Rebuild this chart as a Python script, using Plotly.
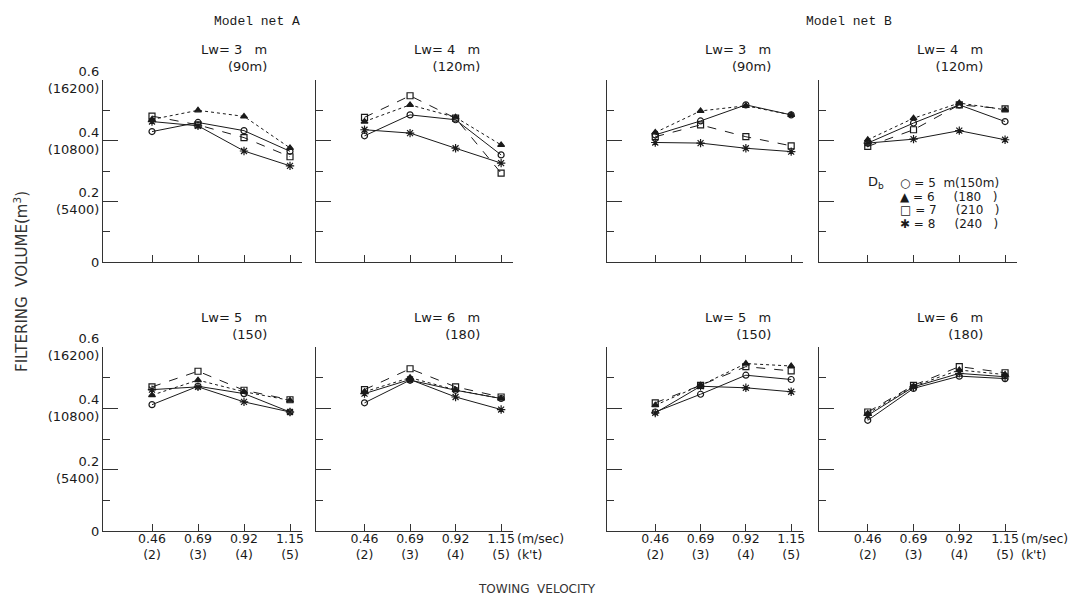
import plotly.graph_objects as go

W, H = 1089, 597
OFF = 8  # page body margin of the rendered html

# ---------------- data ----------------
velocity = [0.46, 0.69, 0.92, 1.15]
x_ticktext = ["0.46<br>(2)", "0.69<br>(3)", "0.92<br>(4)", "1.15<br>(5)"]
y_tickvals = [0, 0.2, 0.4, 0.6]
y_ticktext = ["0", "0.2<br>(5400)", "0.4<br>(10800)", "0.6<br>(16200)"]
y_minor = [0.1, 0.3, 0.5]

db_names = ["Db = 5 m (150m)", "Db = 6 (180)", "Db = 7 (210)", "Db = 8 (240)"]
legend_rows = ["\u25cb = 5\u00a0\u00a0m(150m)",
               "\u25b2 = 6\u00a0\u00a0\u00a0\u00a0\u00a0(180\u00a0\u00a0\u00a0)",
               "\u25a1 = 7\u00a0\u00a0\u00a0\u00a0\u00a0(210\u00a0\u00a0\u00a0)",
               "\u2731 = 8\u00a0\u00a0\u00a0\u00a0\u00a0(240\u00a0\u00a0\u00a0)"]

panel_titles = ["Lw=\u00a03\u00a0\u00a0\u00a0m<br>(90m)", "Lw=\u00a04\u00a0\u00a0\u00a0m<br>(120m)",
                "Lw=\u00a03\u00a0\u00a0\u00a0m<br>(90m)", "Lw=\u00a04\u00a0\u00a0\u00a0m<br>(120m)",
                "Lw=\u00a05\u00a0\u00a0\u00a0m<br>(150)", "Lw=\u00a06\u00a0\u00a0\u00a0m<br>(180)",
                "Lw=\u00a05\u00a0\u00a0\u00a0m<br>(150)", "Lw=\u00a06\u00a0\u00a0\u00a0m<br>(180)"]

# series order in each panel: Db=5 (circle), Db=6 (triangle), Db=7 (square), Db=8 (asterisk)
netA_lw3 = [[0.430, 0.460, 0.433, 0.365],
            [0.470, 0.500, 0.480, 0.376],
            [0.481, 0.452, 0.410, 0.347],
            [0.463, 0.449, 0.366, 0.317]]
netA_lw4 = [[0.416, 0.485, 0.469, 0.353],
            [0.463, 0.518, 0.477, 0.386],
            [0.477, 0.548, 0.474, 0.293],
            [0.436, 0.425, 0.375, 0.326]]
netB_lw3 = [[0.419, 0.465, 0.518, 0.485],
            [0.427, 0.498, 0.515, 0.485],
            [0.413, 0.452, 0.413, 0.383],
            [0.394, 0.392, 0.375, 0.364]]
netB_lw4 = [[0.392, 0.458, 0.518, 0.463],
            [0.403, 0.474, 0.524, 0.502],
            [0.381, 0.436, 0.518, 0.505],
            [0.392, 0.405, 0.433, 0.403]]
netA_lw5 = [[0.412, 0.472, 0.448, 0.388],
            [0.443, 0.492, 0.454, 0.426],
            [0.470, 0.521, 0.459, 0.428],
            [0.461, 0.470, 0.421, 0.388]]
netA_lw6 = [[0.418, 0.492, 0.459, 0.432],
            [0.454, 0.500, 0.460, 0.432],
            [0.461, 0.529, 0.470, 0.437],
            [0.448, 0.494, 0.437, 0.396]]
netB_lw5 = [[0.388, 0.446, 0.508, 0.494],
            [0.410, 0.475, 0.546, 0.538],
            [0.418, 0.475, 0.536, 0.522],
            [0.385, 0.472, 0.467, 0.454]]
netB_lw6 = [[0.361, 0.465, 0.505, 0.497],
            [0.383, 0.472, 0.525, 0.510],
            [0.388, 0.475, 0.536, 0.516],
            [0.377, 0.470, 0.514, 0.503]]

panels = [netA_lw3, netA_lw4, netB_lw3, netB_lw4,
          netA_lw5, netA_lw6, netB_lw5, netB_lw6]

# ---------------- styles ----------------
INK = "#1a1a1a"
AX = "#333333"
FONT = "DejaVu Sans, Liberation Sans, sans-serif"
MONO = "Liberation Mono, DejaVu Sans Mono, monospace"

symbols = ["circle-open", "triangle-up", "square-open", "asterisk-open"]
dashes = ["solid", "dot", "dash", "solid"]
msizes = [6, 6, 6, 7]

col_px = [(103, 302), (316, 513), (607, 803), (819, 1017)]
row_px = [(80, 262), (347, 531)]


def fx(px):
    return (px - OFF) / W


def fy(py):
    return 1 - (py - OFF) / H


fig = go.Figure()
layout = dict(width=W, height=H,
              margin=dict(l=0, r=0, t=0, b=0, pad=0, autoexpand=False),
              paper_bgcolor="white", plot_bgcolor="white",
              showlegend=False, font=dict(family=FONT, size=13, color=INK))
annotations = []

for i, series in enumerate(panels):
    r, c = divmod(i, 4)
    k = i + 1
    xa = "x" if k == 1 else f"x{k}"
    ya = "y" if k == 1 else f"y{k}"
    for j, vals in enumerate(series):
        fig.add_trace(go.Scatter(
            x=velocity, y=vals, xaxis=xa, yaxis=ya, mode="lines+markers",
            name=db_names[j],
            line=dict(color=INK, width=1.0, dash=dashes[j]),
            marker=dict(symbol=symbols[j], size=msizes[j], color=INK,
                        line=dict(color=INK, width=1.2)),
            cliponaxis=False))
    x0, x1 = col_px[c]
    ytop, ybot = row_px[r]
    layout["xaxis" if k == 1 else f"xaxis{k}"] = dict(
        domain=[fx(x0), fx(x1)], anchor=ya, range=[0.215, 1.21], automargin=False,
        showgrid=False, zeroline=False, showline=True, linecolor=AX, linewidth=1.3,
        ticks="inside", ticklen=7, tickcolor=AX, tickwidth=1.2,
        tickvals=velocity, ticktext=x_ticktext, ticklabelstandoff=-4,
        showticklabels=(r == 1), tickfont=dict(family=FONT, size=12.5, color=INK))
    layout["yaxis" if k == 1 else f"yaxis{k}"] = dict(
        domain=[fy(ybot), fy(ytop)], anchor=xa, range=[0, 0.6], automargin=False,
        showgrid=False, zeroline=False, showline=True, linecolor=AX, linewidth=1.3,
        ticks="inside", ticklen=15, tickcolor=AX, tickwidth=1.2,
        tickvals=y_tickvals, ticktext=y_ticktext,
        minor=dict(tickvals=y_minor, ticks="inside", ticklen=7, tickcolor=AX, tickwidth=1.2),
        showticklabels=(c == 0), tickfont=dict(family=FONT, size=13, color=INK))
    # panel title
    annotations.append(dict(
        xref="paper", yref="paper", x=fx(x0 + 166), y=fy(ytop - 4 if r == 0 else ytop - 3),
        xanchor="right", yanchor="bottom", align="right", showarrow=False,
        text=panel_titles[i], font=dict(family=FONT, size=13, color=INK)))

# units after the last x tick label
for k in (6, 8):
    annotations.append(dict(xref=f"x{k}", yref="paper", x=1.15, y=fy(538), xshift=14,
                            xanchor="left", yanchor="middle", showarrow=False,
                            text="(m/sec)", font=dict(family=FONT, size=12.5, color=INK)))
    annotations.append(dict(xref=f"x{k}", yref="paper", x=1.15, y=fy(554), xshift=14,
                            xanchor="left", yanchor="middle", showarrow=False,
                            text="(k't)", font=dict(family=FONT, size=12.5, color=INK)))

# group headings
annotations.append(dict(xref="paper", yref="paper", x=fx(257), y=fy(21), showarrow=False,
                        xanchor="center", yanchor="middle", text="Model net A",
                        font=dict(family=MONO, size=13, color=INK)))
annotations.append(dict(xref="paper", yref="paper", x=fx(849), y=fy(21), showarrow=False,
                        xanchor="center", yanchor="middle", text="Model net B",
                        font=dict(family=MONO, size=13, color=INK)))

# axis titles
annotations.append(dict(xref="paper", yref="paper", x=fx(21), y=fy(282), showarrow=False,
                        textangle=-90, xanchor="center", yanchor="middle",
                        text="FILTERING\u00a0\u00a0VOLUME(m<sup>3</sup>)",
                        font=dict(family=FONT, size=15, color="#333333")))
annotations.append(dict(xref="paper", yref="paper", x=fx(537), y=fy(589), showarrow=False,
                        xanchor="center", yanchor="middle",
                        text="TOWING\u00a0\u00a0VELOCITY",
                        font=dict(family=FONT, size=12, color="#333333")))

# key inside the upper-right panel
annotations.append(dict(xref="paper", yref="paper", x=fx(866), y=fy(183), showarrow=False,
                        xanchor="left", yanchor="middle", text="D<sub>b</sub>",
                        font=dict(family=FONT, size=13, color=INK)))
for n, txt in enumerate(legend_rows):
    annotations.append(dict(xref="paper", yref="paper", x=fx(898), y=fy(183 + 13.5 * n),
                            showarrow=False, xanchor="left", yanchor="middle", text=txt,
                            font=dict(family=FONT, size=12, color=INK)))

layout["annotations"] = annotations
fig.update_layout(**layout)
fig.write_html("out.html")
